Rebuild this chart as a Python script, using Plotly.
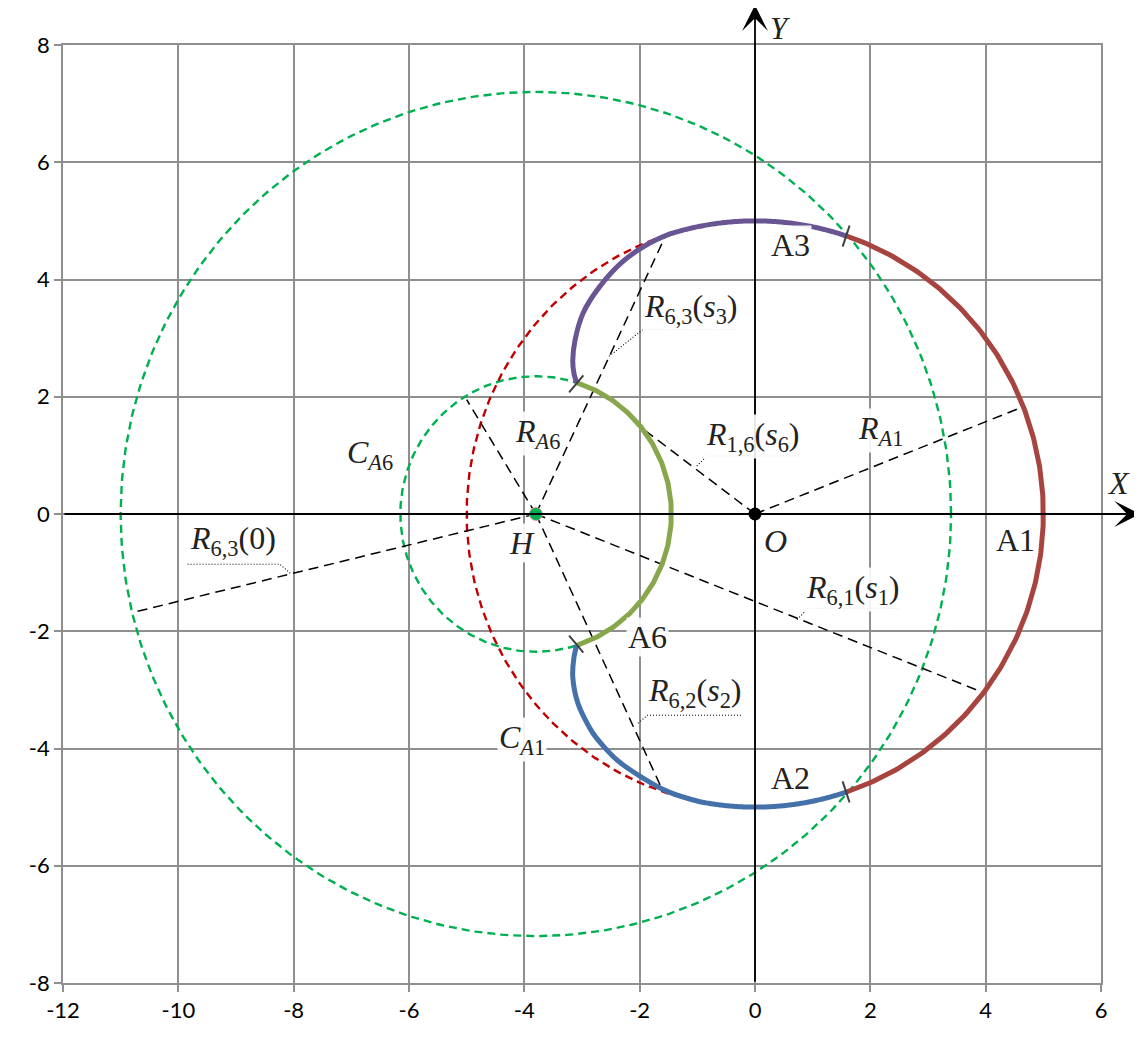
import numpy as np
import plotly.graph_objects as go

# ---------------- data ----------------
O_center = (0.0, 0.0)
H_center = (-3.8, 0.0)
R_A1 = 5.0          # radius of circle C_A1 (centre O)
R_A6 = 2.35         # radius of circle C_A6 (centre H)
R_big = 7.2         # radius of large dashed circle (centre H)

# arc angle limits (degrees)
A1_angles = [-71.5, 71.5]          # red arc, centre O
A3_angles = [71.5, 107.0]          # purple arc part on C_A1
A2_angles = [-71.5, -101.0]        # blue arc part on C_A1
A6_angles = [72.5, -72.5]          # green arc, centre H

# transition curves (read points)
A3_trans_x = [-1.9, -2.3, -2.7, -2.98, -3.12, -3.16, -3.14, -3.094]
A3_trans_y = [4.58, 4.30, 3.87, 3.43, 2.97, 2.62, 2.40, 2.241]
A2_trans_x = [-1.5, -1.95, -2.39, -2.81, -3.07, -3.16, -3.14, -3.094]
A2_trans_y = [-4.74, -4.50, -4.20, -3.74, -3.23, -2.78, -2.45, -2.241]

# junction tick marks: centre x, centre y, direction angle (deg)
tick_x = [1.58, 1.58, -3.10, -3.10]
tick_y = [4.74, -4.74, 2.22, -2.22]
tick_ang = [71.5, -71.5, 49.5, -49.5]
tick_len = 0.38

# dashed radius lines: start and end points
rad_x0 = [0.0, 0.0, -3.8, -3.8, -3.8, -3.8, -3.8]
rad_y0 = [0.0, 0.0, 0.0, 0.0, 0.0, 0.0, 0.0]
rad_x1 = [4.65, -2.02, -5.0, -1.53, 3.97, -1.6, -10.79]
rad_y1 = [1.83, 1.51, 1.95, 4.79, -3.05, -4.72, -1.68]

# leader (callout) lines
leaders = {
    "R63s3": ([-2.53, -1.94, -0.30], [2.69, 3.15, 3.15]),
    "R16s6": ([-1.01, -0.83, 0.78], [0.82, 0.99, 0.99]),
    "R61s1": ([0.73, 0.92, 2.51], [-1.80, -1.61, -1.61]),
    "R62s2": ([-2.03, -1.86, -0.23], [-3.57, -3.43, -3.43]),
    "R630": ([-8.06, -8.24, -9.85], [-1.01, -0.857, -0.857]),
}

# math labels
label_text = [
    "<i>R</i><sub>6,3</sub>(<i>s</i><sub>3</sub>)",
    "<i>R</i><sub>1,6</sub>(<i>s</i><sub>6</sub>)",
    "<i>R</i><sub>6,1</sub>(<i>s</i><sub>1</sub>)",
    "<i>R</i><sub>6,2</sub>(<i>s</i><sub>2</sub>)",
    "<i>R</i><sub>6,3</sub>(0)",
    "<i>R</i><sub><i>A</i>1</sub>",
    "<i>R</i><sub><i>A</i>6</sub>",
    "<i>C</i><sub><i>A</i>6</sub>",
    "<i>C</i><sub><i>A</i>1</sub>",
    "<i>O</i>",
    "<i>H</i>",
    "A3", "A1", "A2", "A6",
]
label_x = [-1.11, -0.03, 1.70, -1.04, -9.05, 2.17, -3.78, -6.68, -4.04, 0.35, -4.04, 0.61, 4.51, 0.61, -1.86]
label_y = [3.50, 1.33, -1.28, -3.04, -0.46, 1.42, 1.38, 1.02, -3.84, -0.46, -0.50, 4.59, -0.45, -4.50, -2.10]

x_ticks = list(range(-12, 7, 2))
y_ticks = list(range(-8, 9, 2))

# ---------------- helpers ----------------
def arc(center, r, a0, a1, n=200):
    t = np.radians(np.linspace(a0, a1, n))
    return center[0] + r * np.cos(t), center[1] + r * np.sin(t)

fig = go.Figure()

RED = "#A8443F"
PURPLE = "#6A5593"
BLUE = "#4571AA"
GREEN = "#88A74D"
DGREEN = "#00B050"
DRED = "#C00000"

# dashed circles
for c, r, col in [(H_center, R_big, DGREEN), (H_center, R_A6, DGREEN), (O_center, R_A1, DRED)]:
    x, y = arc(c, r, 0, 360, 400)
    fig.add_trace(go.Scatter(x=x, y=y, mode="lines",
                             line=dict(color=col, width=2.4, dash="8px,5px"),
                             hoverinfo="skip", showlegend=False))

# dashed radius lines
for x0, y0, x1, y1 in zip(rad_x0, rad_y0, rad_x1, rad_y1):
    fig.add_trace(go.Scatter(x=[x0, x1], y=[y0, y1], mode="lines",
                             line=dict(color="black", width=1.5, dash="10px,6px"),
                             hoverinfo="skip", showlegend=False))

# leader lines
for k, (lx, ly) in leaders.items():
    fig.add_trace(go.Scatter(x=lx, y=ly, mode="lines",
                             line=dict(color="black", width=1.1, dash="1px,2px"),
                             hoverinfo="skip", showlegend=False))

# solid curves
x, y = arc(O_center, R_A1, *A1_angles)
fig.add_trace(go.Scatter(x=x, y=y, mode="lines", line=dict(color=RED, width=5),
                         hoverinfo="skip", showlegend=False))
x, y = arc(H_center, R_A6, *A6_angles)
fig.add_trace(go.Scatter(x=x, y=y, mode="lines", line=dict(color=GREEN, width=5),
                         hoverinfo="skip", showlegend=False))
ax_, ay_ = arc(O_center, R_A1, *A3_angles, n=60)
fig.add_trace(go.Scatter(x=list(ax_) + A3_trans_x, y=list(ay_) + A3_trans_y, mode="lines",
                         line=dict(color=PURPLE, width=5, shape="spline", smoothing=0.8),
                         hoverinfo="skip", showlegend=False))
bx_, by_ = arc(O_center, R_A1, *A2_angles, n=60)
fig.add_trace(go.Scatter(x=list(bx_) + A2_trans_x, y=list(by_) + A2_trans_y, mode="lines",
                         line=dict(color=BLUE, width=5, shape="spline", smoothing=0.8),
                         hoverinfo="skip", showlegend=False))

# junction ticks
for tx, ty, ta in zip(tick_x, tick_y, tick_ang):
    d = np.radians(ta)
    h = tick_len / 2
    fig.add_trace(go.Scatter(x=[tx - h * np.cos(d), tx + h * np.cos(d)],
                             y=[ty - h * np.sin(d), ty + h * np.sin(d)], mode="lines",
                             line=dict(color="#404040", width=2),
                             hoverinfo="skip", showlegend=False))

# points O and H
fig.add_trace(go.Scatter(x=[O_center[0]], y=[O_center[1]], mode="markers",
                         marker=dict(color="black", size=13), hoverinfo="skip", showlegend=False))
fig.add_trace(go.Scatter(x=[H_center[0]], y=[H_center[1]], mode="markers",
                         marker=dict(color=DGREEN, size=13, line=dict(color="#E8A0A0", width=1)),
                         hoverinfo="skip", showlegend=False))

MATH_FONT = dict(family="Liberation Serif", size=32, color="#222")

annotations = []
# axis arrows
annotations.append(dict(x=6.68, y=0, ax=-12, ay=0, xref="x", yref="y", axref="x", ayref="y",
                        showarrow=True, arrowhead=3, arrowsize=2.4, arrowwidth=1.8,
                        arrowcolor="black", text=""))
annotations.append(dict(x=0, y=8.68, ax=0, ay=-8, xref="x", yref="y", axref="x", ayref="y",
                        showarrow=True, arrowhead=3, arrowsize=2.4, arrowwidth=1.8,
                        arrowcolor="black", text=""))
annotations.append(dict(x=1.0164, y=0.533, xref="paper", yref="paper", showarrow=False,
                        xanchor="center", yanchor="middle", text="<i>X</i>", font=MATH_FONT))
annotations.append(dict(x=0.6908, y=1.0384, xref="paper", yref="paper", showarrow=False,
                        xanchor="center", yanchor="top", text="<i>Y</i>",
                        font=dict(family="Liberation Serif", size=31, color="#222")))

for t, lx, ly in zip(label_text, label_x, label_y):
    annotations.append(dict(x=lx, y=ly, xref="x", yref="y", showarrow=False, text=t,
                            xanchor="center", yanchor="middle",
                            bgcolor="rgba(255,255,255,0.9)", borderpad=1,
                            font=MATH_FONT))

# the page places the figure 8 px from the window's top-left corner
fig.update_layout(
    width=1134, height=1029,
    margin=dict(l=55, r=41, t=37, b=54),
    plot_bgcolor="white", paper_bgcolor="white",
    annotations=annotations,
    font=dict(family="Lato", size=22, color="black"),
)
axis_common = dict(showgrid=True, gridcolor="#8f8f8f", gridwidth=1.6, zeroline=False,
                   showline=True, linecolor="#8f8f8f", linewidth=1.6, mirror=True,
                   ticks="outside", ticklen=7, tickcolor="#8f8f8f", tickwidth=1.6,
                   tickfont=dict(family="Lato", size=22, color="black"))
fig.update_xaxes(range=[-12, 6], tickvals=x_ticks, ticktext=[str(v) for v in x_ticks], **axis_common)
fig.update_yaxes(range=[-8, 8], tickvals=y_ticks, ticktext=[str(v) for v in y_ticks], **axis_common)

fig.write_html("out.html")
